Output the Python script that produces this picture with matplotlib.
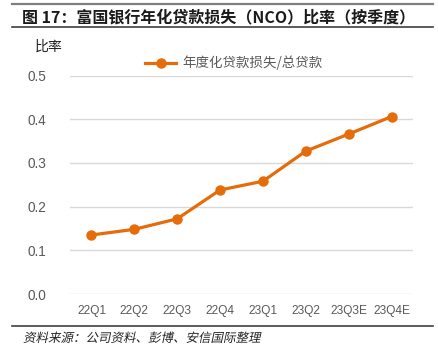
import matplotlib.pyplot as plt
from matplotlib.lines import Line2D
from matplotlib.textpath import TextPath
from matplotlib.patches import PathPatch
from matplotlib.font_manager import FontProperties
from matplotlib.transforms import Affine2D

plt.rcParams['font.family'] = ['Liberation Sans', 'Noto Sans CJK SC', 'DejaVu Sans']

# data
quarters = ['22Q1', '22Q2', '22Q3', '22Q4', '23Q1', '23Q2', '23Q3E', '23Q4E']
nco_ratio = [0.135, 0.148, 0.172, 0.238, 0.258, 0.327, 0.366, 0.406]
yticks = [0.0, 0.1, 0.2, 0.3, 0.4, 0.5]

title = '图 17：富国银行年化贷款损失（NCO）比率（按季度）'
legend_label = '年度化贷款损失/总贷款'
source = '资料来源：公司资料、彭博、安信国际整理'

orange = '#E46C0A'
grey = '#595959'
cjk = ['Noto Sans CJK SC', 'DejaVu Sans']

fig = plt.figure(figsize=(4.39, 3.56), dpi=100)
ax = fig.add_axes([70 / 439, 1 - 294 / 356, 343 / 439, 218.5 / 356])

x = list(range(len(quarters)))
ax.plot(x, nco_ratio, color=orange, linewidth=2.3, marker='o', markersize=6.5,
        zorder=3)

ax.set_xlim(-0.5, len(quarters) - 0.5)
ax.set_ylim(0, 0.5)
ax.set_yticks(yticks)
ax.set_yticklabels(['%.1f' % v for v in yticks])
ax.set_xticks(x)
ax.set_xticklabels(quarters)
ax.tick_params(axis='y', length=0, pad=17, labelsize=9.8, labelcolor=grey)
ax.tick_params(axis='x', length=0, pad=8, labelsize=8.6, labelcolor=grey)
ax.grid(axis='y', color='#D9D9D9', linewidth=1)
ax.set_axisbelow(True)
for s in ax.spines.values():
    s.set_visible(False)

# legend above the axes
handle = Line2D([], [], color=orange, linewidth=2.3, marker='o', markersize=6.5)
fig.legend([handle], [legend_label], loc='center', bbox_to_anchor=(234 / 439, 1 - 63 / 356),
           frameon=False, handlelength=2.3, handletextpad=0.5,
           prop={'family': cjk, 'size': 9.7}, labelcolor=grey)

# titles and decorations
fig.text(22 / 439, 1 - 17 / 356, title, fontsize=11.5, fontweight='bold',
         family=cjk, va='center', ha='left', color='#1a1a1a')
fig.text(35 / 439, 1 - 47 / 356, '比率', fontsize=10, family=cjk,
         va='center', ha='left', color='#222222')

# source line in slanted (fake italic) text, the CJK font has no italic face
tp = TextPath((0, 0), source, size=9 * 100 / 72, prop=FontProperties(family='Noto Sans CJK SC'))
slant = Affine2D().skew_deg(12, 0).translate(23, 356 - 342)
fig.add_artist(PathPatch(tp, transform=slant, facecolor='#222222', edgecolor='none'))

fig.add_artist(Line2D([12 / 439, 433 / 439], [1 - 4 / 356, 1 - 4 / 356],
                      color='#7f7f7f', linewidth=1.6))
fig.add_artist(Line2D([12 / 439, 433 / 439], [1 - 27 / 356, 1 - 27 / 356],
                      color='#404040', linewidth=1.2))
fig.add_artist(Line2D([12 / 439, 433 / 439], [1 - 326 / 356, 1 - 326 / 356],
                      color='#404040', linewidth=1.2))

fig.savefig('out.png', dpi=100)
